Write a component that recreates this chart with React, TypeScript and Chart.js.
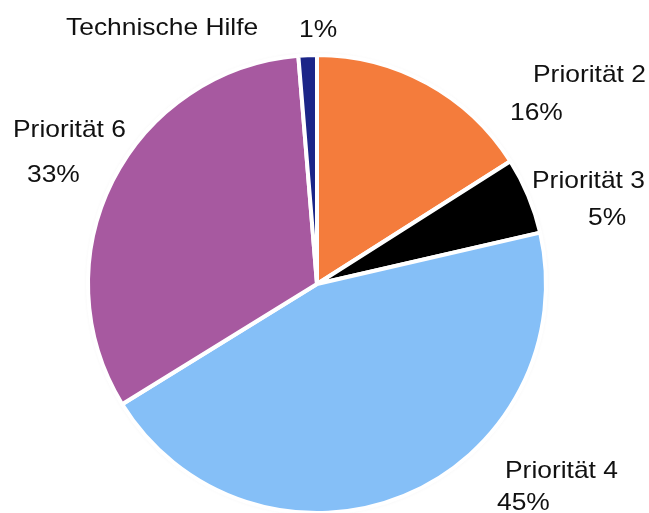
import React, { useEffect, useRef } from "react";
import { Chart, registerables } from "chart.js";

Chart.register(...registerables);

const categories = ["Priorität 2", "Priorität 3", "Priorität 4", "Priorität 6", "Technische Hilfe"];
const values = [16.0, 5.4, 44.8, 32.5, 1.3];
const colors = ["#F47C3C", "#000000", "#85BFF7", "#A759A0", "#1B2588"];

// label placement (left x, baseline y) for name and percent text, Excel-style manual positions
const labelLayout = [
  { name: [533, 82], pct: [510, 120] },
  { name: [532, 188], pct: [588, 225] },
  { name: [505, 478], pct: [497, 510] },
  { name: [13, 137], pct: [27, 182] },
  { name: [66, 35], pct: [299, 37] },
];

const shadowPlugin = {
  id: "pieShadow",
  beforeDatasetsDraw(chart: any) {
    const arc = chart.getDatasetMeta(0).data[0];
    if (!arc) return;
    const ctx = chart.ctx;
    ctx.save();
    ctx.beginPath();
    ctx.arc(arc.x, arc.y, arc.outerRadius - 1, 0, Math.PI * 2);
    ctx.shadowColor = "rgba(0,0,0,0.18)";
    ctx.shadowBlur = 5;
    ctx.fillStyle = "#ffffff";
    ctx.fill();
    ctx.restore();
  },
};

const labelPlugin = {
  id: "outLabels",
  afterDraw(chart: any) {
    const ctx = chart.ctx;
    const data = chart.data.datasets[0].data as number[];
    ctx.save();
    ctx.font = '24px "Liberation Sans", Arial, sans-serif';
    ctx.fillStyle = "#111111";
    ctx.textAlign = "left";
    ctx.textBaseline = "alphabetic";
    const draw = (t: string, x: number, y: number) => {
      ctx.save();
      ctx.translate(x, y);
      ctx.scale(1.1, 1);
      ctx.fillText(t, 0, 0);
      ctx.restore();
    };
    chart.data.labels.forEach((lab: string, i: number) => {
      const pos = labelLayout[i];
      draw(lab, pos.name[0], pos.name[1]);
      draw(Math.round(data[i]) + "%", pos.pct[0], pos.pct[1]);
    });
    ctx.restore();
  },
};

export default function App() {
  const ref = useRef<HTMLCanvasElement>(null);
  useEffect(() => {
    if (!ref.current) return;
    const chart = new Chart(ref.current, {
      type: "pie",
      data: {
        labels: categories,
        datasets: [
          {
            data: values,
            backgroundColor: colors,
            borderColor: "#ffffff",
            borderWidth: 4,
          },
        ],
      },
      options: {
        responsive: false,
        animation: false,
        layout: { padding: { left: 86, right: 101, top: 53, bottom: 5 } },
        plugins: {
          legend: { display: false },
          tooltip: { enabled: false },
        },
      },
      plugins: [shadowPlugin, labelPlugin],
    });
    return () => chart.destroy();
  }, []);
  return (
    <div style={{ position: "fixed", left: 0, top: 0, width: 649, height: 520, background: "#fff" }}>
      <canvas ref={ref} width={649} height={520} style={{ width: 649, height: 520 }} />
    </div>
  );
}
